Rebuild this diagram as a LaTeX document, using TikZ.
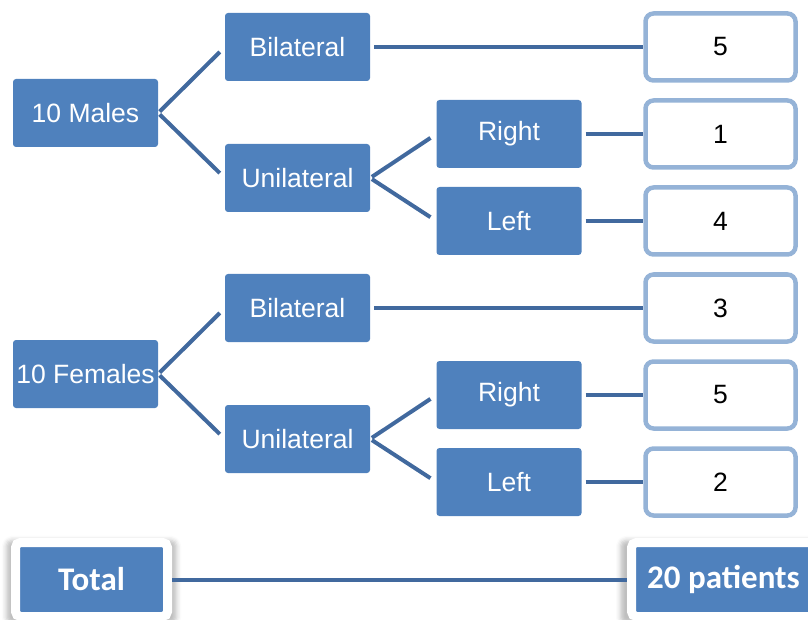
\documentclass[tikz,border=0pt]{standalone}
\usepackage{fontspec}
\setmainfont{Liberation Sans}
\newfontfamily\calibfont{Carlito}
\usetikzlibrary{shadows.blur}
\definecolor{boxblue}{HTML}{4F81BD}
\definecolor{linkblue}{HTML}{41699E}
\definecolor{rimblue}{HTML}{95B3D7}
\begin{document}
\begin{tikzpicture}[x=1pt, y=-1pt]
		\tikzstyle{all} = [align=center, font=\fontsize{26.5}{31}\selectfont, inner sep=0pt]
		\tikzstyle{block} = [rectangle, all, fill=boxblue, text=white, rounded corners=3pt, minimum width=145pt, minimum height=68pt]
		\tikzstyle{count} = [rectangle, all, draw=rimblue, line width=4.5pt, fill=white, rounded corners=8pt, minimum width=150pt, minimum height=67pt]
		\tikzstyle{sum} = [rectangle, all, fill=boxblue, text=white, draw=white, line width=9pt, rounded corners=5pt, minimum height=74pt, font=\calibfont\bfseries\fontsize{33}{38}\selectfont, blur shadow={shadow xshift=0pt, shadow yshift=-2pt, shadow scale=1.12, shadow blur radius=4pt, shadow opacity=25}]
		\tikzstyle{link} = [draw=linkblue, line width=4pt, shorten <=2pt, shorten >=7pt]
		\tikzstyle{row} = [draw=linkblue, line width=4pt, shorten <=4pt]
		\useasboundingbox (0,0) rectangle (808,620);
		% males
		\node[block] (males) at (85.5,113) {10 Males};
		\node[block] (bilm) at (297.5,47) {Bilateral};
		\node[block] (unim) at (297.5,178) {Unilateral};
		\node[block] (rightm) at (509,134) {Right};
		\node[block] (leftm) at (509,221) {Left};
		% females
		\node[block] (females) at (85.5,374) {10 Females};
		\node[block] (bilf) at (297.5,308) {Bilateral};
		\node[block] (unif) at (297.5,439) {Unilateral};
		\node[block] (rightf) at (509,395) {Right};
		\node[block] (leftf) at (509,482) {Left};
		% counts
		\node[count] (nbilm) at (720.5,47) {5};
		\node[count] (nrightm) at (720.5,134) {1};
		\node[count] (nleftm) at (720.5,221) {4};
		\node[count] (nbilf) at (720.5,308) {3};
		\node[count] (nrightf) at (720.5,395) {5};
		\node[count] (nleftf) at (720.5,482) {2};
		% total
		\node[sum, minimum width=152pt] (total) at (91.5,579.5) {Total};
		\node[sum, minimum width=184pt] (patients) at (723.5,579.5) {20 patients};

		\draw[link] (males.east) -- (bilm.west);
		\draw[link] (males.east) -- (unim.west);
		\draw[link] (unim.east) -- (rightm.west);
		\draw[link] (unim.east) -- (leftm.west);
		\draw[link] (females.east) -- (bilf.west);
		\draw[link] (females.east) -- (unif.west);
		\draw[link] (unif.east) -- (rightf.west);
		\draw[link] (unif.east) -- (leftf.west);
		\draw[row] (bilm.east) -- (nbilm.west);
		\draw[row] (rightm.east) -- (nrightm.west);
		\draw[row] (leftm.east) -- (nleftm.west);
		\draw[row] (bilf.east) -- (nbilf.west);
		\draw[row] (rightf.east) -- (nrightf.west);
		\draw[row] (leftf.east) -- (nleftf.west);
		\draw[row, shorten <=0pt] (total.east) -- (patients.west);
\end{tikzpicture}
\end{document}
